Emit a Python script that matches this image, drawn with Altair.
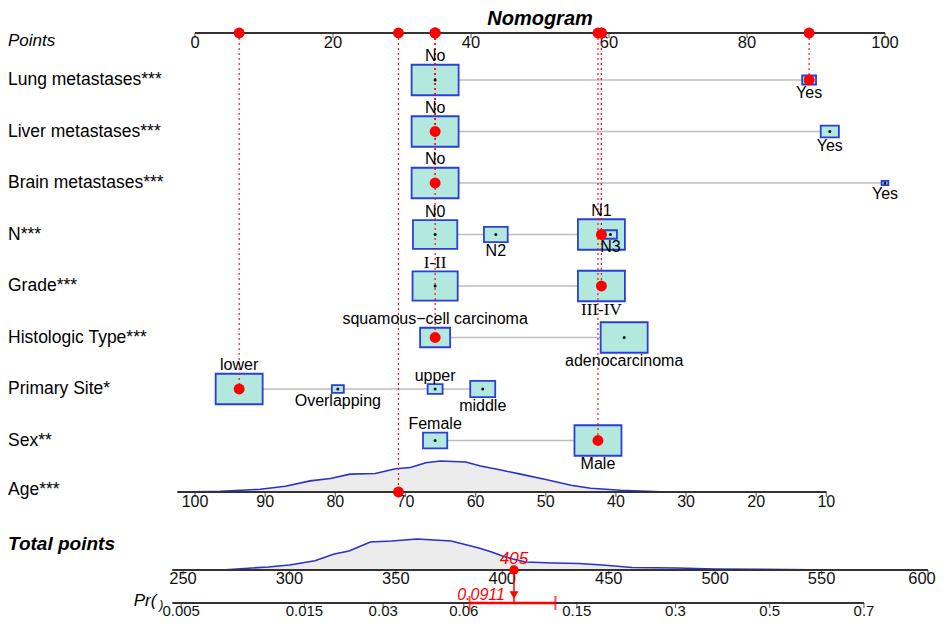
import math
import altair as alt
import pandas as pd

# ---------------- chart values ----------------
title_text = "Nomogram"
points_ticks = [0, 20, 40, 60, 80, 100]

factor_names = ["Lung metastases***", "Liver metastases***", "Brain metastases***",
                "N***", "Grade***", "Histologic Type***", "Primary Site*", "Sex**"]

lung_levels = ["No", "Yes"]
lung_points = [34.8, 89.0]
lung_freq = [0.92, 0.08]

liver_levels = ["No", "Yes"]
liver_points = [34.8, 92.0]
liver_freq = [0.87, 0.13]

brain_levels = ["No", "Yes"]
brain_points = [34.8, 100.0]
brain_freq = [0.98, 0.02]

n_levels = ["N0", "N2", "N1", "N3"]
n_points = [34.8, 43.6, 58.9, 60.2]
n_freq = [0.40, 0.115, 0.45, 0.035]

grade_levels = ["I-II", "III-IV"]
grade_points = [34.8, 58.9]
grade_freq = [0.48, 0.52]

hist_levels = ["squamous\u2212cell carcinoma", "adenocarcinoma"]
hist_points = [34.8, 62.2]
hist_freq = [0.29, 0.71]

site_levels = ["lower", "Overlapping", "upper", "middle"]
site_points = [6.4, 20.7, 34.8, 41.7]
site_freq = [0.69, 0.045, 0.07, 0.195]

sex_levels = ["Female", "Male"]
sex_points = [34.8, 58.4]
sex_freq = [0.21, 0.79]

selected_levels = ["Yes", "No", "No", "N1", "III-IV",
                   "squamous\u2212cell carcinoma", "lower", "Male"]

age_ticks = [100, 90, 80, 70, 60, 50, 40, 30, 20, 10]
age_points_at_100 = 0.0
age_points_at_10 = 91.5
selected_age = 71
age_curve_age = [102.5, 96.4, 90.7, 87.1, 83.6, 80.7, 77.9, 74.3, 71.4, 69.3, 67.1, 65.0,
                 61.4, 59.3, 56.4, 53.6, 50.0, 46.4, 43.6, 39.3, 33.6, 26.4, 19.3, 10.0]
age_curve_density = [0, 0.7, 2.7, 5.7, 11, 13.3, 17.7, 18.3, 23, 24.3, 29, 30.7,
                     29.7, 25.7, 21.7, 17.7, 12.3, 6.7, 3.7, 1.7, 0.3, 0, 0, 0]

total_ticks = [250, 300, 350, 400, 450, 500, 550, 600]
total_curve_points = [245, 270, 290, 300, 312, 321, 328, 338, 348, 360, 376, 389, 395,
                      400, 405, 411, 424, 436, 447, 461, 482, 500, 520, 545, 575]
total_curve_density = [0, 0.3, 3, 5, 9.3, 16, 19, 28, 29, 31, 29, 22, 18,
                       14, 11, 8, 7, 6.5, 5, 2.5, 2, 1, 0.7, 0.3, 0]

pr_ticks = [0.005, 0.015, 0.03, 0.06, 0.15, 0.3, 0.5, 0.7]
pr_tick_labels = ["0.005", "0.015", "0.03", "0.06", "0.15", "0.3", "0.5", "0.7"]
pred_prob = 0.0911
pred_ci = [0.063, 0.127]
pr_slope = 52.24  # total points per logit unit

# ---------------- layout ----------------
W, H = 929, 611
PX_PT = 6.9          # pixels per point
PX_ROW = 51.5        # pixels per row
X0 = -187 / PX_PT
X1 = X0 + W / PX_PT
Y0 = 1 - 72 / PX_ROW
Y1 = Y0 + H / PX_ROW

ROW_AXIS = 1 - 47 / PX_ROW
ROW_AGE = 9.0
ROW_TOTAL_LABEL = 10.0
ROW_TOTAL_AXIS = 1 + 490 / PX_ROW
ROW_PR = 1 + 523 / PX_ROW
DENS_H = 31 / PX_ROW
BOX_W, BOX_H, LABEL_GAP = 47.0, 30.5, 8.5

FONT = "Liberation Sans"
SERIF = "Liberation Serif"
BOX_FILL = "#b3e8df"
BOX_STROKE = "#2a3fd9"
BLUE = "#2a30d0"
AXIS_COL = "#333333"
RED = "#ff0000"


def age_to_pts(a):
    return age_points_at_100 + (100 - a) * (age_points_at_10 - age_points_at_100) / 90.0


def total_to_pts(t):
    return (-12 + (t - 250) * 745 / 350) / PX_PT


def logit(p):
    return math.log(p / (1 - p))


XS = alt.Scale(domain=[X0, X1], nice=False, zero=False)
YS = alt.Scale(domain=[Y0, Y1], nice=False, zero=False, reverse=True)


def ex(f="x"):
    return alt.X(f"{f}:Q", scale=XS, axis=None)


def ey(f="y"):
    return alt.Y(f"{f}:Q", scale=YS, axis=None)


factors = [(lung_levels, lung_points, lung_freq), (liver_levels, liver_points, liver_freq),
           (brain_levels, brain_points, brain_freq), (n_levels, n_points, n_freq),
           (grade_levels, grade_points, grade_freq), (hist_levels, hist_points, hist_freq),
           (site_levels, site_points, site_freq), (sex_levels, sex_points, sex_freq)]

boxes, connectors, sel = [], [], []
for i, ((levels, pts, freq), chosen) in enumerate(zip(factors, selected_levels)):
    row = i + 1
    fmax = max(freq)
    order = sorted(range(len(levels)), key=lambda k: pts[k])
    connectors.append(dict(x=min(pts), x2=max(pts), y=row))
    for rank, k in enumerate(order):
        s = math.sqrt(freq[k] / fmax)
        hw = BOX_W * s / 2 / PX_PT
        hh = BOX_H * s / 2 / PX_ROW
        off = (BOX_H * s / 2 + LABEL_GAP) / PX_ROW
        boxes.append(dict(x=pts[k], x_lo=pts[k] - hw, x_hi=pts[k] + hw, y=row,
                          y_lo=row - hh, y_hi=row + hh, label=levels[k],
                          ly=row - off if rank % 2 == 0 else row + off,
                          serif=levels[k] in grade_levels))
        if levels[k] == chosen:
            sel.append(dict(x=pts[k], y=row, y_top=ROW_AXIS))
sel.append(dict(x=age_to_pts(selected_age), y=ROW_AGE, y_top=ROW_AXIS))

boxes_df = pd.DataFrame(boxes)
sel_df = pd.DataFrame(sel)
total = sum(d["x"] for d in sel)


def prob_to_total(p):
    return total + pr_slope * (logit(p) - logit(pred_prob))


layers = []

# densities
age_df = pd.DataFrame(dict(
    x=[age_to_pts(a) for a in age_curve_age],
    y=[ROW_AGE - d / max(age_curve_density) * DENS_H for d in age_curve_density],
    y2=ROW_AGE))
tot_df = pd.DataFrame(dict(
    x=[total_to_pts(t) for t in total_curve_points],
    y=[ROW_TOTAL_AXIS - d / max(total_curve_density) * DENS_H for d in total_curve_density],
    y2=ROW_TOTAL_AXIS))
for df in (age_df, tot_df):
    layers.append(alt.Chart(df).mark_area(color="#ececec", opacity=1).encode(
        x=ex(), y=ey(), y2=alt.Y2("y2:Q")))
    layers.append(alt.Chart(df).mark_line(color=BLUE, strokeWidth=1.6).encode(x=ex(), y=ey()))

# axis lines
axes_df = pd.DataFrame([
    dict(x=0, x2=100, y=ROW_AXIS),
    dict(x=age_to_pts(age_curve_age[0]), x2=age_to_pts(10), y=ROW_AGE),
    dict(x=total_to_pts(total_curve_points[0]), x2=total_to_pts(600), y=ROW_TOTAL_AXIS),
    dict(x=total_to_pts(total_curve_points[0]), x2=total_to_pts(prob_to_total(pr_ticks[-1])), y=ROW_PR),
])
layers.append(alt.Chart(axes_df).mark_rule(color=AXIS_COL, strokeWidth=2).encode(
    x=ex(), x2=alt.X2("x2:Q"), y=ey()))

# ticks and tick labels
tick_sets = [
    ([float(v) for v in points_ticks], [str(v) for v in points_ticks], ROW_AXIS, 10, 16.5),
    ([age_to_pts(a) for a in age_ticks], [str(a) for a in age_ticks], ROW_AGE, 10, 16),
    ([total_to_pts(t) for t in total_ticks], [str(t) for t in total_ticks], ROW_TOTAL_AXIS, 9, 16.5),
    ([total_to_pts(prob_to_total(p)) for p in pr_ticks], pr_tick_labels, ROW_PR, 8, 15),
]
for xs, labs, row, dy, fs in tick_sets:
    tdf = pd.DataFrame(dict(x=xs, y=row, label=labs))
    layers.append(alt.Chart(tdf).mark_tick(orient="vertical", size=5, thickness=1.2, yOffset=2.5,
                                           color=AXIS_COL).encode(x=ex(), y=ey()))
    inner = tdf[tdf.label != "600"]
    last = tdf[tdf.label == "600"]
    layers.append(alt.Chart(inner).mark_text(font=FONT, fontSize=fs, baseline="middle", dy=dy,
                                             color="#111").encode(x=ex(), y=ey(), text="label:N"))
    if len(last):
        layers.append(alt.Chart(last).mark_text(font=FONT, fontSize=fs, baseline="middle", dy=dy,
                                                dx=-6, color="#111").encode(x=ex(), y=ey(), text="label:N"))

# connectors and boxes
layers.append(alt.Chart(pd.DataFrame(connectors)).mark_rule(color="#bdbdbd", strokeWidth=1.6).encode(
    x=ex(), x2=alt.X2("x2:Q"), y=ey()))
layers.append(alt.Chart(boxes_df).mark_rect(fill=BOX_FILL, stroke=BOX_STROKE, strokeWidth=1.8).encode(
    x=ex("x_lo"), x2=alt.X2("x_hi:Q"), y=ey("y_lo"), y2=alt.Y2("y_hi:Q")))

# dotted red guide lines
layers.append(alt.Chart(sel_df).mark_rule(color=RED, strokeDash=[2, 3], strokeWidth=1.1).encode(
    x=ex(), y=ey("y_top"), y2=alt.Y2("y:Q")))

# black centre dots
layers.append(alt.Chart(boxes_df).mark_circle(size=9, color="#111111", opacity=1).encode(x=ex(), y=ey()))

# red dots
layers.append(alt.Chart(sel_df).mark_circle(size=120, color=RED, opacity=1).encode(x=ex(), y=ey()))
layers.append(alt.Chart(sel_df).mark_circle(size=120, color=RED, opacity=1).encode(x=ex(), y=ey("y_top")))

# category labels
layers.append(alt.Chart(boxes_df[~boxes_df.serif]).mark_text(font=FONT, fontSize=16, baseline="middle").encode(
    x=ex(), y=ey("ly"), text="label:N"))
layers.append(alt.Chart(boxes_df[boxes_df.serif]).mark_text(font=SERIF, fontSize=17, baseline="middle").encode(
    x=ex(), y=ey("ly"), text="label:N"))

# row labels
row_df = pd.DataFrame(dict(x=X0, y=[i + 1 for i in range(len(factor_names))] + [ROW_AGE - 0.04],
                           label=factor_names + ["Age***"]))
layers.append(alt.Chart(row_df).mark_text(font=FONT, fontSize=17.5, align="left", baseline="middle").encode(
    x=ex(), y=ey(), text="label:N"))
layers.append(alt.Chart(pd.DataFrame(dict(x=[X0], y=[ROW_AXIS], label=["Points"]))).mark_text(
    font=FONT, fontSize=17, fontStyle="italic", align="left", baseline="middle", dy=8).encode(
    x=ex(), y=ey(), text="label:N"))
layers.append(alt.Chart(pd.DataFrame(dict(x=[X0], y=[ROW_TOTAL_LABEL], label=["Total points"]))).mark_text(
    font=FONT, fontSize=19, fontStyle="italic", fontWeight="bold", align="left", baseline="middle").encode(
    x=ex(), y=ey(), text="label:N"))

# title
layers.append(alt.Chart(pd.DataFrame(dict(x=[50], y=[Y0], label=[title_text]))).mark_text(
    font=FONT, fontSize=20, fontStyle="italic", fontWeight="bold", baseline="top", dy=1).encode(
    x=ex(), y=ey(), text="label:N"))

# Pr label
pr_start = total_to_pts(total_curve_points[0])
layers.append(alt.Chart(pd.DataFrame(dict(x=[pr_start], y=[ROW_PR], label=["Pr("]))).mark_text(
    font=FONT, fontSize=17, fontStyle="italic", align="right", baseline="middle", dx=-16, dy=-2).encode(
    x=ex(), y=ey(), text="label:N"))
layers.append(alt.Chart(pd.DataFrame(dict(x=[pr_start], y=[ROW_PR], label=[")"]))).mark_text(
    font=FONT, fontSize=12, fontStyle="italic", align="right", baseline="middle", dx=-9, dy=2).encode(
    x=ex(), y=ey(), text="label:N"))

# total points marker, arrow and probability
tx = total_to_pts(total)
tot_pt = pd.DataFrame(dict(x=[tx], y=[ROW_TOTAL_AXIS], y2=[ROW_PR], label=[f"{round(total)}"]))
layers.append(alt.Chart(tot_pt).mark_rule(color=RED, strokeWidth=1.5).encode(
    x=ex(), y=ey(), y2=alt.Y2("y2:Q")))
layers.append(alt.Chart(tot_pt).mark_point(shape="triangle-down", filled=True, size=80, color=RED,
                                           opacity=1, yOffset=-8).encode(x=ex(), y=ey("y2")))
layers.append(alt.Chart(tot_pt).mark_circle(size=90, color=RED, opacity=1).encode(x=ex(), y=ey()))
layers.append(alt.Chart(tot_pt).mark_text(font=FONT, fontSize=17, fontStyle="italic", color=RED,
                                          baseline="middle", dy=-11).encode(x=ex(), y=ey(), text="label:N"))

ci_df = pd.DataFrame(dict(x=[total_to_pts(prob_to_total(pred_ci[0]))],
                          x2=[total_to_pts(prob_to_total(pred_ci[1]))], y=[ROW_PR]))
layers.append(alt.Chart(ci_df).mark_rule(color=RED, strokeWidth=2.5).encode(x=ex(), x2=alt.X2("x2:Q"), y=ey()))
ci_ends = pd.DataFrame(dict(x=[total_to_pts(prob_to_total(p)) for p in pred_ci], y=ROW_PR))
layers.append(alt.Chart(ci_ends).mark_tick(orient="vertical", size=14, thickness=2, color=RED).encode(
    x=ex(), y=ey()))
layers.append(alt.Chart(pd.DataFrame(dict(x=[tx], y=[ROW_PR], label=[f"{pred_prob}"]))).mark_text(
    font=FONT, fontSize=16, fontStyle="italic", color=RED, align="right", baseline="middle",
    dx=-9, dy=-8).encode(x=ex(), y=ey(), text="label:N"))

chart = alt.layer(*layers).properties(
    width=W, height=H, padding=0, autosize=alt.AutoSizeParams(type="none")
).configure_view(stroke=None)

chart.save("out.html", embed_options={"renderer": "svg", "actions": False})
